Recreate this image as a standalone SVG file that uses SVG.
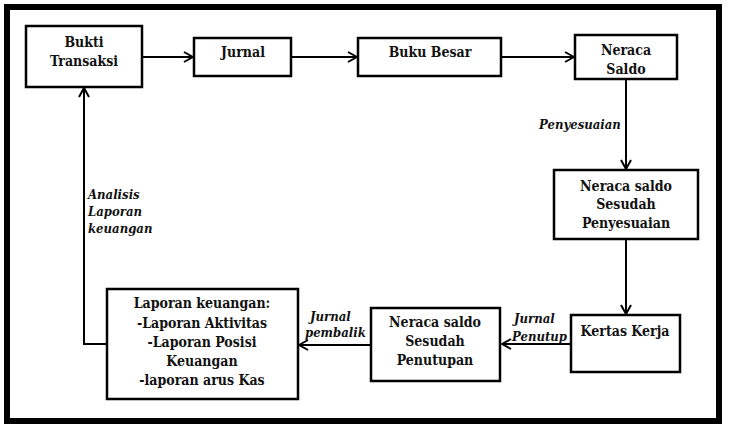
<svg xmlns="http://www.w3.org/2000/svg" width="732" height="434" viewBox="0 0 732 434">
<style>
.box{fill:#fff;stroke:#000;stroke-width:2.5}
.t{font-family:'DejaVu Serif',serif;font-stretch:condensed;font-weight:bold;font-size:14px;text-anchor:middle;fill:#111}
.l{font-family:'DejaVu Serif',serif;font-stretch:condensed;font-weight:bold;font-style:italic;font-size:13px;fill:#111}
.c{fill:none;stroke:#000;stroke-width:2}
</style>
<defs>
<marker id="a" viewBox="0 0 12 12" refX="11" refY="6" markerWidth="12" markerHeight="12" markerUnits="userSpaceOnUse" orient="auto">
<path d="M2,1 L11,6 L2,11" fill="none" stroke="#000" stroke-width="2"/>
</marker>
</defs>
<rect x="0" y="0" width="732" height="434" fill="#fff"/>
<rect x="7" y="7" width="712" height="414" fill="none" stroke="#000" stroke-width="6"/>
<g id="connectors">
<line class="c" x1="142" y1="57" x2="193" y2="57" marker-end="url(#a)"/>
<line class="c" x1="291" y1="57" x2="357" y2="57" marker-end="url(#a)"/>
<line class="c" x1="501" y1="57" x2="574" y2="57" marker-end="url(#a)"/>
<line class="c" x1="626" y1="79" x2="626" y2="169" marker-end="url(#a)"/>
<line class="c" x1="626" y1="239" x2="626" y2="314" marker-end="url(#a)"/>
<line class="c" x1="571" y1="344" x2="502" y2="344" marker-end="url(#a)"/>
<line class="c" x1="371" y1="345" x2="299" y2="345" marker-end="url(#a)"/>
<polyline class="c" points="107,344 84,344 84,88" marker-end="url(#a)"/>
<text class="l" x="539" y="129">Penyesuaian</text>
<text class="l" x="514" y="323">Jurnal</text>
<text class="l" x="512" y="341">Penutup</text>
<text class="l" x="310" y="321">Jurnal</text>
<text class="l" x="305" y="337">pembalik</text>
<text class="l" x="88" y="199">Analisis</text>
<text class="l" x="88" y="216">Laporan</text>
<text class="l" x="88" y="233">keuangan</text>
</g>
<g id="bukti"><rect class="box" x="26" y="26" width="116" height="61"/>
<text class="t" x="84" y="47">Bukti</text><text class="t" x="84" y="66">Transaksi</text></g>
<g id="jurnal"><rect class="box" x="194" y="38" width="97" height="38"/>
<text class="t" x="243" y="57">Jurnal</text></g>
<g id="bukubesar"><rect class="box" x="358" y="38" width="143" height="38"/>
<text class="t" x="430" y="57">Buku Besar</text></g>
<g id="neracasaldo"><rect class="box" x="575" y="35" width="102" height="44"/>
<text class="t" x="626" y="55">Neraca</text><text class="t" x="626" y="74">Saldo</text></g>
<g id="penyesuaian"><rect class="box" x="554" y="170" width="144" height="69"/>
<text class="t" x="626" y="191">Neraca saldo</text><text class="t" x="626" y="209">Sesudah</text><text class="t" x="626" y="228">Penyesuaian</text></g>
<g id="kertaskerja"><rect class="box" x="571" y="315" width="109" height="57"/>
<text class="t" x="625" y="336">Kertas Kerja</text></g>
<g id="penutupan"><rect class="box" x="371" y="308" width="129" height="73"/>
<text class="t" x="435" y="327">Neraca saldo</text><text class="t" x="435" y="346">Sesudah</text><text class="t" x="435" y="365">Penutupan</text></g>
<g id="laporan"><rect class="box" x="107" y="289" width="191" height="110"/>
<text class="t" x="202" y="308">Laporan keuangan:</text>
<text class="t" x="202" y="328">-Laporan Aktivitas</text>
<text class="t" x="202" y="347">-Laporan Posisi</text>
<text class="t" x="202" y="366">Keuangan</text>
<text class="t" x="202" y="385">-laporan arus Kas</text></g>
</svg>
